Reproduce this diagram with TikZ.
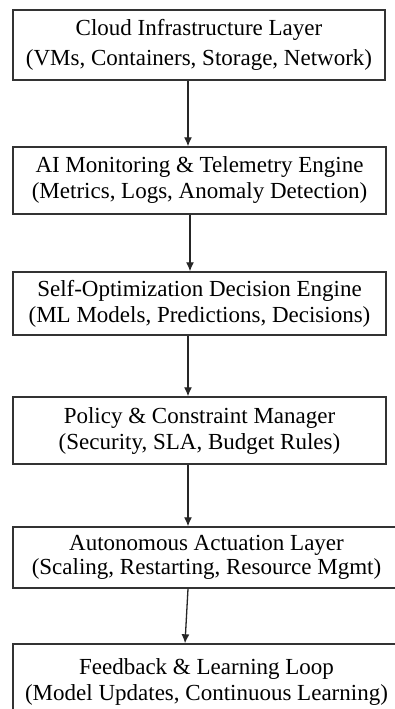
\documentclass[tikz,border=0pt]{standalone}
\usepackage{fontspec}
\setmainfont{Liberation Serif}
\usetikzlibrary{arrows.meta}
\begin{document}
\begin{tikzpicture}[x=1pt,y=-1pt,
  box/.style={draw=black!80, line width=1.4pt, align=center, inner sep=0pt, fill=white,
    font=\fontsize{23}{26}\selectfont},
  conn/.style={draw=black!85, line width=1.3pt, -{Latex[length=9pt,width=8pt]}}]
\useasboundingbox[fill=white] (0,0) rectangle (394,709);
\node[box, minimum width=372pt, minimum height=70pt, font=\fontsize{23}{30}\selectfont] (b1) at (199,45)
  {Cloud Infrastructure Layer\\(VMs, Containers, Storage, Network)};
\node[box, minimum width=373pt, minimum height=67pt] (b2) at (199.5,180.5)
  {AI Monitoring \& Telemetry Engine\\(Metrics, Logs, Anomaly Detection)};
\node[box, minimum width=373pt, minimum height=63pt] (b3) at (199.5,303.5)
  {Self-Optimization Decision Engine\\(ML Models, Predictions, Decisions)};
\node[box, minimum width=373pt, minimum height=67pt] (b4) at (199.5,430.5)
  {Policy \& Constraint Manager\\(Security, SLA, Budget Rules)};
\node[box, minimum width=387pt, minimum height=61pt, font=\fontsize{23}{24}\selectfont] (b5) at (206.5,557.5)
  {Autonomous Actuation Layer\\(Scaling, Restarting, Resource Mgmt)};
\node[box, minimum width=387pt, minimum height=76pt] (b6) at (206.5,682)
  {Feedback \& Learning Loop\\(Model Updates, Continuous Learning)};
\coordinate (xa) at (188,0);
\coordinate (xb) at (190,0);
\coordinate (xc) at (185,0);
\draw[conn] (b1.south -| xa) -- (b2.north -| xa);
\draw[conn] (b2.south -| xb) -- (b3.north -| xb);
\draw[conn] (b3.south -| xa) -- (b4.north -| xa);
\draw[conn] (b4.south -| xa) -- (b5.north -| xa);
\draw[conn] (b5.south -| xa) -- (b6.north -| xc);
\end{tikzpicture}
\end{document}
